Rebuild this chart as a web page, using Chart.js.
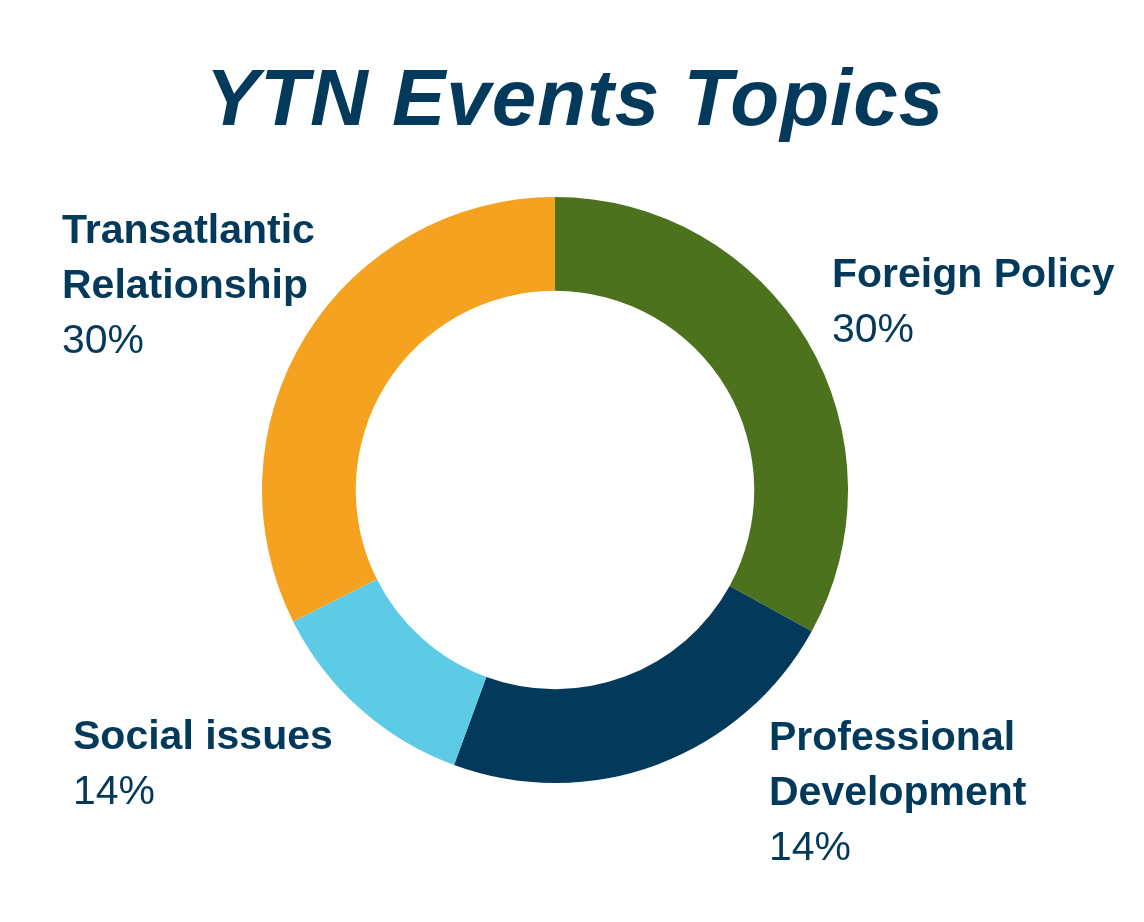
<!DOCTYPE html>
<html>
<head>
<meta charset="utf-8">
<script src="https://cdn.jsdelivr.net/npm/chart.js@4"></script>
<style>
  body { margin: 0; background: #fff; width: 1144px; height: 922px; position: relative; overflow: hidden;
         font-family: 'Liberation Sans Narrow', 'Liberation Sans', Arial, sans-serif; color: #033a5c; }
  h1 { position: absolute; left: 0; width: 1150px; top: 52px; margin: 0; text-align: center;
       font-size: 80px; font-style: italic; font-weight: bold; letter-spacing: 1px; }
  .lbl { position: absolute; font-size: 41px; line-height: 55px; }
  .lbl b { display: block; }
  #wrap { position: absolute; left: 262px; top: 197px; width: 586px; height: 586px; }
</style>
</head>
<body>
<h1>YTN Events Topics</h1>
<div id="wrap"><canvas id="donut"></canvas></div>
<script>
const topics = ['Foreign Policy', 'Professional Development', 'Social issues', 'Transatlantic Relationship'];
const sliceValues = [33, 22.6, 12, 32.4];
const printedPct = ['30%', '14%', '14%', '30%'];
const sliceColors = ['#4c721d', '#033a5c', '#5ecbe6', '#f6a221'];

// label placement: [left, top, title lines]
const labelPos = [
  [832, 246, ['Foreign Policy']],
  [769, 709, ['Professional', 'Development']],
  [73, 708, ['Social issues']],
  [62, 202, ['Transatlantic', 'Relationship']],
];

labelPos.forEach((p, i) => {
  const d = document.createElement('div');
  d.className = 'lbl';
  d.style.left = p[0] + 'px';
  d.style.top = p[1] + 'px';
  d.innerHTML = p[2].map(t => '<b>' + t + '</b>').join('') + '<span>' + printedPct[i] + '</span>';
  document.body.appendChild(d);
});

new Chart(document.getElementById('donut'), {
  type: 'doughnut',
  data: {
    labels: topics,
    datasets: [{ data: sliceValues, backgroundColor: sliceColors, borderWidth: 0 }],
  },
  options: {
    responsive: true,
    maintainAspectRatio: false,
    animation: false,
    cutout: '68%',
    plugins: { legend: { display: false }, tooltip: { enabled: false } },
  },
});
</script>
</body>
</html>
